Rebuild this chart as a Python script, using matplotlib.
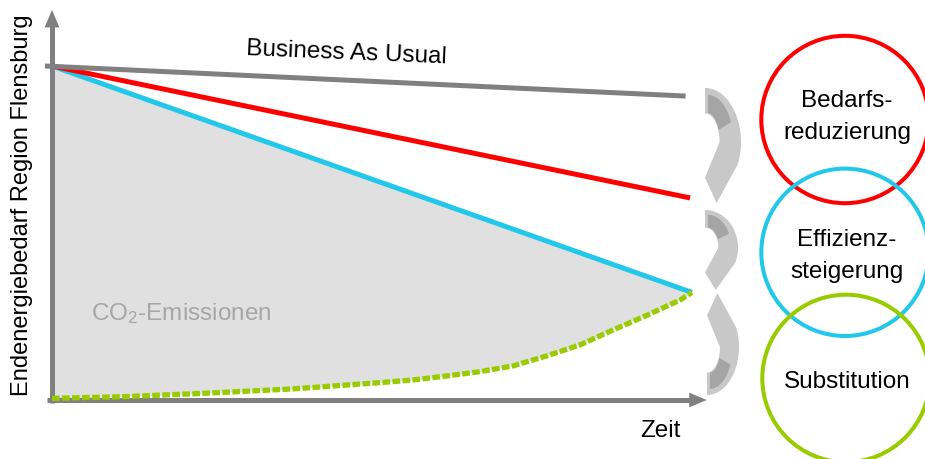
import numpy as np
import matplotlib
matplotlib.use("Agg")
import matplotlib.pyplot as plt
from matplotlib.patches import Circle, Polygon

plt.rcParams["font.family"] = ["Liberation Sans", "DejaVu Sans"]
plt.rcParams["mathtext.fontset"] = "custom"
plt.rcParams["mathtext.rm"] = "Liberation Sans"
plt.rcParams["mathtext.it"] = "Liberation Sans:italic"

# Scenario paths: time (0 = today, 1 = target year) vs. final energy demand (today = 1)
bau_t = [-0.011, 0.99]
bau_e = [1.0, 0.91]
red_t = [0.0, 0.997]          # demand reduction
red_e = [1.0, 0.605]
eff_t = [0.0, 1.0]            # efficiency gains
eff_e = [1.0, 0.322]
sub_t = [0.0, 0.1125, 0.2375, 0.375, 0.5125, 0.564, 0.617, 0.669,
         0.720, 0.773, 0.825, 0.877, 0.930, 0.981, 1.0]   # substitution (renewables)
sub_e = [0.005, 0.010, 0.020, 0.033, 0.052, 0.060, 0.072, 0.085,
         0.102, 0.132, 0.165, 0.210, 0.254, 0.299, 0.322]

# Strategy circles on the right
strategy_labels = [["Bedarfs-", "reduzierung"], ["Effizienz-", "steigerung"], ["Substitution"]]
strategy_colors = ["#ff0000", "#22c8ea", "#99cc00"]

GRAY = "#808080"
W, H = 925, 459

fig = plt.figure(figsize=(W / 100, H / 100), dpi=100)

# pixel-based layer for the circles, curved arrows and labels
deco = fig.add_axes([0, 0, 1, 1])
deco.set_xlim(0, W)
deco.set_ylim(H, 0)
deco.axis("off")

# chart area: time on x, energy demand on y
px0, px1, py0, py1 = 52, 692, 400, 66
ax = fig.add_axes([px0 / W, (H - py0) / H, (px1 - px0) / W, (py0 - py1) / H])
ax.set_xlim(0, 1)
ax.set_ylim(0, 1)
ax.axis("off")
ax.patch.set_alpha(0)

# CO2 emissions area between efficiency path and substitution curve
eff_at_sub = np.interp(sub_t, eff_t, eff_e)
ax.fill_between(sub_t, sub_e, eff_at_sub, color="#e0e0e0", lw=0, zorder=1)

# axes with arrow heads
ax.plot([0, 0], [-0.009, 1.12], color=GRAY, lw=3.6, solid_capstyle="butt",
        clip_on=False, zorder=2)
ax.plot([-0.008, 0.998], [0, 0], color=GRAY, lw=3.6, solid_capstyle="butt",
        clip_on=False, zorder=2)
head = dict(arrowstyle="-|>,head_length=0.9,head_width=0.38", mutation_scale=14,
            fc=GRAY, ec=GRAY, lw=0, shrinkA=0, shrinkB=0)
ax.annotate("", xy=(0, 1.168), xytext=(0, 1.10), arrowprops=head,
            annotation_clip=False, zorder=2)
ax.annotate("", xy=(1.023, 0), xytext=(0.98, 0), arrowprops=head,
            annotation_clip=False, zorder=2)

# scenario lines
ax.plot(eff_t, eff_e, color="#22c8ea", lw=3.6, solid_capstyle="butt", clip_on=False, zorder=3)
ax.plot(red_t, red_e, color="#ff0000", lw=3.6, solid_capstyle="butt", clip_on=False, zorder=4)
ax.plot(bau_t, bau_e, color=GRAY, lw=3.6, solid_capstyle="butt", clip_on=False, zorder=5)
ax.plot(sub_t, sub_e, color="#99cc00", lw=3.8, dashes=(1.45, 0.45),
        dash_capstyle="butt", clip_on=False, zorder=6)

# text labels
deco.text(346, 59, "Business As Usual", fontsize=17.5, rotation=-2.4,
          rotation_mode="anchor", ha="center", va="baseline")
deco.text(22, 205, "Endenergiebedarf Region Flensburg", fontsize=17,
          rotation=90, ha="center", va="center")
deco.text(660, 437, "Zeit", fontsize=17.5, ha="center", va="baseline")
ax.text(91, 320, r"CO$_2$-Emissionen", fontsize=17.5, color="#a6a6a6",
        ha="left", va="baseline", transform=deco.transData, zorder=7)

# strategy circles
centers = [(845, 119.5), (845, 252.3), (846, 378.4)]
radius = 83.7
baselines = [[106.7, 139.3], [246, 278.3], [388]]
for (cx, cy), col, lines, bl in zip(centers, strategy_colors, strategy_labels, baselines):
    deco.add_patch(Circle((cx, cy), radius, fill=False, ec=col, lw=2.9, clip_on=False))
    for txt, yb in zip(lines, bl):
        deco.text(847, yb, txt, fontsize=17.5, ha="center", va="baseline")


def curved_arrow(axis, left, top, bottom, width, point_up=False):
    """Ribbon-style curved arrow, bulging to the right, head at the far end."""
    h = bottom - top
    s = width / 37.0
    c = 0.47 * h
    b_in = c - 0.22 * h
    th = np.radians(np.linspace(90, -24, 60))
    outer = np.column_stack([37 * s * np.cos(th), c - c * np.sin(th)])
    th = np.radians(np.linspace(0, 90, 50))
    inner = np.column_stack([15 * s * np.cos(th), c - b_in * np.sin(th)])
    tip = np.array([[12 * s, h], [0, 0.78 * h]])
    body = np.vstack([outer, tip, inner, [[0, 0]]])
    # darker inner face of the ribbon near its start
    th = np.radians(np.linspace(90, 25, 40))
    d_out = np.column_stack([3 + 26 * s * np.cos(th), c - (c - 0.06 * h) * np.sin(th)])
    th = np.radians(np.linspace(25, 90, 40))
    d_in = np.column_stack([3 + 12 * s * np.cos(th), c - b_in * np.sin(th)])
    face = np.vstack([d_out, d_in])
    for shape, col in ((body, "#c8c8c8"), (face, "#a5a5a5")):
        xy = shape.copy()
        xy[:, 0] += left
        xy[:, 1] = bottom - xy[:, 1] if point_up else top + xy[:, 1]
        axis.add_patch(Polygon(xy, closed=True, fc=col, ec="none"))


curved_arrow(deco, 705, 88, 203, 36)
curved_arrow(deco, 705, 210, 290, 33)
curved_arrow(deco, 707, 293, 395, 32, point_up=True)

fig.savefig("out.png", dpi=100)
